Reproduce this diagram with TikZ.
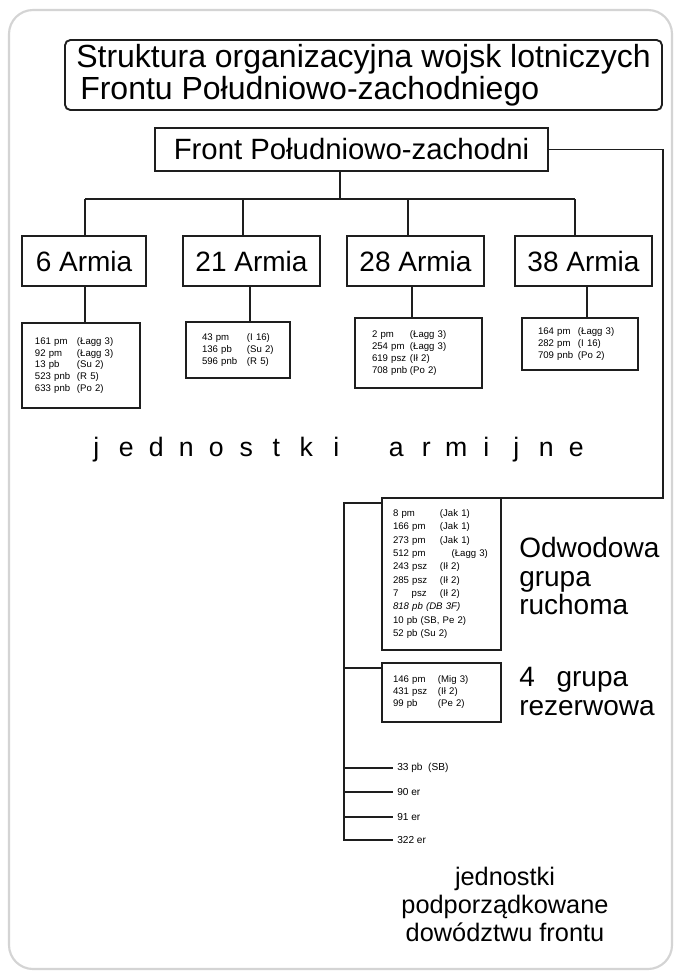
\documentclass[tikz,border=0pt]{standalone}
\usepackage{fontspec}
\setmainfont{Liberation Sans}
\usetikzlibrary{calc}
\definecolor{ink}{HTML}{1E1E1E}
\definecolor{framegray}{HTML}{D4D4D4}
\newcommand\bxnode[6]{\node[#6, minimum width={(#3-#1)*0.75pt}, minimum height={(#4-#2)*0.75pt}] (#5) at ({(#1+#3)/2},{(#2+#4)/2})}
\newcommand\rw[2]{\makebox[#1][l]{#2}}
\newcommand\Lt[1]{\makebox[22.5pt]{#1}}
\tikzset{
  ln/.style={draw=ink, line width=1.4pt},
  bx/.style={draw=ink, line width=1.4pt, inner sep=0pt, outer sep=0pt},
  bigtxt/.style={font=\fontsize{21}{24}\selectfont},
  tinytxt/.style={font=\fontsize{7.2}{8.8}\selectfont, align=left},
  sidetxt/.style={font=\fontsize{21}{21.4}\selectfont, align=left, inner sep=0pt},
  unittxt/.style={font=\fontsize{7.6}{8}\selectfont, anchor=west, inner sep=3pt},
}
\begin{document}
\begin{tikzpicture}[x=0.75pt, y=-0.75pt]
\useasboundingbox (0,0) rectangle (678,972);
\fill[white] (0,0) rectangle (678,972);
\draw[framegray, line width=1.6pt, rounded corners=18pt] (9,10) rectangle (672,969);

% title
\bxnode{65}{40}{662}{110}{title}{bx, rounded corners=4pt, align=left, font=\fontsize{24}{24}\selectfont}
  {Struktura organizacyjna wojsk lotniczych\\\hspace*{3pt}Frontu Południowo-zachodniego};

% front
\bxnode{155}{128}{548}{171}{front}{bx, font=\fontsize{22}{24}\selectfont} {Front Południowo-zachodni};

% armies
\bxnode{22}{236}{146}{286}{a6}{bx, bigtxt} {6 Armia};
\bxnode{183}{236}{320}{286}{a21}{bx, bigtxt} {21 Armia};
\bxnode{347}{236}{484}{286}{a28}{bx, bigtxt} {28 Armia};
\bxnode{515}{236}{652}{286}{a38}{bx, bigtxt} {38 Armia};

% army units
\bxnode{22}{323}{140}{408}{s6}{bx, tinytxt, inner xsep=9.75pt, text width=69pt}
  {\rw{31.5pt}{161 pm}(Łagg 3)\\\rw{31.5pt}{92 pm}(Łagg 3)\\\rw{31.5pt}{13 pb}(Su 2)\\\rw{31.5pt}{523 pnb}(R 5)\\\rw{31.5pt}{633 pnb}(Po 2)};
\bxnode{186}{322}{290}{378}{s21}{bx, tinytxt, inner xsep=12pt, text width=54pt}
  {\rw{33.75pt}{43 pm}(I 16)\\\rw{33.75pt}{136 pb}(Su 2)\\\rw{33.75pt}{596 pnb}(R 5)};
\bxnode{355}{318}{482}{388}{s28}{bx, tinytxt, inner xsep=12.75pt, text width=69.75pt}
  {\rw{28.5pt}{2 pm}(Łagg 3)\\\rw{28.5pt}{254 pm}(Łagg 3)\\\rw{28.5pt}{619 psz}(Ił 2)\\\rw{28.5pt}{708 pnb}(Po 2)};
\bxnode{522}{318}{638}{370}{s38}{bx, tinytxt, inner xsep=12pt, text width=63pt}
  {\rw{30pt}{164 pm}(Łagg 3)\\\rw{30pt}{282 pm}(I 16)\\\rw{30pt}{709 pnb}(Po 2)};

% army connectors
\coordinate (d0) at (340,199);
\coordinate (b6) at (85,199);
\coordinate (b21) at (243,199);
\coordinate (b28) at (408,199);
\coordinate (b38) at (575,199);
\draw[ln] (front.south -| d0) -- (d0);
\draw[ln] (b6) -- (b38);
\draw[ln] (b6) -- (b6 |- a6.north);
\draw[ln] (b21) -- (b21 |- a21.north);
\draw[ln] (b28) -- (b28 |- a28.north);
\draw[ln] (b38) -- (b38 |- a38.north);
\coordinate (c6) at (85,0);
\coordinate (c21) at (250,0);
\coordinate (c28) at (412,0);
\coordinate (c38) at (587,0);
\draw[ln] (a6.south -| c6) -- (s6.north -| c6);
\draw[ln] (a21.south -| c21) -- (s21.north -| c21);
\draw[ln] (a28.south -| c28) -- (s28.north -| c28);
\draw[ln] (a38.south -| c38) -- (s38.north -| c38);

% jednostki armijne
\node[font=\fontsize{20}{24}\selectfont, inner sep=0pt, anchor=base west] (ja) at (81,456)
  {\Lt{j}\Lt{e}\Lt{d}\Lt{n}\Lt{o}\Lt{s}\Lt{t}\Lt{k}\Lt{i}\Lt{}\Lt{a}\Lt{r}\Lt{m}\Lt{i}\Lt{j}\Lt{n}\Lt{e}};

% front units
\bxnode{382}{498}{501}{650}{odw}{bx, font=\fontsize{7.2}{10}\selectfont, align=left, inner xsep=8.25pt, text width=72.75pt}
  {\rw{35.25pt}{8 pm}(Jak 1)\\\rw{35.25pt}{166 pm}(Jak 1)\\\rw{35.25pt}{273 pm}(Jak 1)\\\rw{44pt}{512 pm}(Łagg 3)\\%
   \rw{35.25pt}{243 psz}(Ił 2)\\\rw{35.25pt}{285 psz}(Ił 2)\\\rw{35.25pt}{\rw{14pt}{7}psz}(Ił 2)\\\textit{818 pb (DB 3F)}\\10 pb (SB, Pe 2)\\52 pb (Su 2)};
\bxnode{382}{663}{501}{722}{g4}{bx, font=\fontsize{7.2}{9}\selectfont, align=left, inner xsep=8.25pt, text width=72.75pt}
  {\rw{33.75pt}{146 pm}(Mig 3)\\\rw{33.75pt}{431 psz}(Ił 2)\\\rw{33.75pt}{99 pb}(Pe 2)};
\node[sidetxt, anchor=north west] (odwl) at (519,537) {Odwodowa\\grupa\\ruchoma};
\node[sidetxt, anchor=north west] (g4l) at (519,667) {4\hspace{0.5em} grupa\\rezerwowa};

\node[unittxt] (u33) at (393,768) {33 pb \ (SB)};
\node[unittxt] (u90) at (393,792) {90 er};
\node[unittxt] (u91) at (393,817) {91 er};
\node[unittxt] (u322) at (393,840) {322 er};

% front-unit connectors
\coordinate (rt) at (663,0);
\coordinate (bus) at (344,0);
\draw[ln] (front.east) -- (front.east -| rt) -- (odw.north east -| rt) -- (odw.north east);
\draw[ln] ($(odw.north west)+(0,5)$) -- ($(odw.north west -| bus)+(0,5)$) -- (u322.west -| bus) -- (u322.west);
\draw[ln] ($(g4.north west)+(0,5)$) -- ($(g4.north west -| bus)+(0,5)$);
\draw[ln] (u33.west -| bus) -- (u33.west);
\draw[ln] (u90.west -| bus) -- (u90.west);
\draw[ln] (u91.west -| bus) -- (u91.west);

\node[font=\fontsize{19}{21}\selectfont, align=center, anchor=north, inner sep=0pt] (podp) at (505,867)
  {jednostki\\podporządkowane\\dowództwu frontu};
\end{tikzpicture}
\end{document}
